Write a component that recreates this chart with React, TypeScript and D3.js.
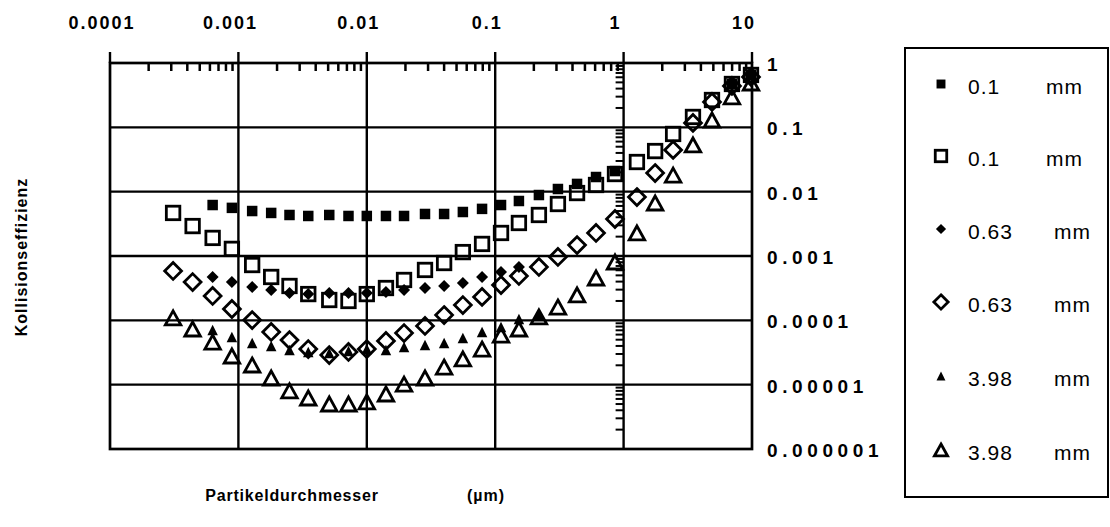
import React from "react";
import * as d3 from "d3";

// particle diameters (µm) shared by all series
const diameters = [3.1e-4, 4.4e-4, 6.3e-4, 8.9e-4, 1.28e-3, 1.8e-3, 2.5e-3, 3.5e-3, 5.1e-3, 7.2e-3, 0.01, 0.0141, 0.0195, 0.0284, 0.04, 0.056, 0.079, 0.111, 0.153, 0.219, 0.308, 0.434, 0.61, 0.857, 1.27, 1.76, 2.43, 3.47, 4.88, 6.98, 9.82];

const sq01Filled = [null, null, 6.2e-3, 5.6e-3, 5.0e-3, 4.67e-3, 4.34e-3, 4.19e-3, 4.34e-3, 4.19e-3, 4.19e-3, 4.19e-3, 4.19e-3, 4.5e-3, 4.5e-3, 4.83e-3, 5.4e-3, 6.2e-3, 7.16e-3, 8.87e-3, 0.011, 0.0132, 0.0169, 0.0209, null, null, null, null, null, 0.472, 0.652];
const sq01Open = [4.67e-3, 2.92e-3, 1.91e-3, 1.29e-3, 7.24e-4, 4.72e-4, 3.42e-4, 2.56e-4, 2.07e-4, 2.0e-4, 2.56e-4, 3.18e-4, 4.24e-4, 6.07e-4, 7.78e-4, 1.15e-3, 1.54e-3, 2.28e-3, 3.26e-3, 4.34e-3, 6.43e-3, 9.52e-3, 0.0127, 0.0188, 0.0289, 0.0428, 0.0789, 0.145, 0.266, 0.472, 0.652];
const di063Filled = [null, null, 4.72e-4, 3.94e-4, 3.3e-4, 2.96e-4, 2.66e-4, 2.56e-4, 2.66e-4, 2.66e-4, 2.66e-4, 2.76e-4, 2.96e-4, 3.18e-4, 3.42e-4, 3.8e-4, 4.72e-4, 5.64e-4, 6.75e-4, null, null, null, null, null, null, null, null, null, null, null, null];
const di063Open = [5.85e-4, 3.94e-4, 2.39e-4, 1.5e-4, 1.01e-4, 6.59e-5, 4.94e-5, 3.58e-5, 2.89e-5, 3.22e-5, 3.58e-5, 4.78e-5, 6.35e-5, 8.17e-5, 1.21e-4, 1.73e-4, 2.31e-4, 3.54e-4, 4.89e-4, 6.75e-4, 9.66e-4, 1.48e-3, 2.28e-3, 3.76e-3, 8.26e-3, 0.0195, 0.0445, 0.117, 0.248, 0.44, 0.607];
const tr398Filled = [null, null, 7.08e-5, 5.51e-5, 4.45e-5, 3.99e-5, 3.46e-5, 3.22e-5, 3.1e-5, 3.33e-5, 3.58e-5, 3.46e-5, 3.86e-5, 4.14e-5, 4.45e-5, 5.31e-5, 6.59e-5, 7.87e-5, 1.05e-4, 1.21e-4, null, null, null, null, null, null, null, null, null, null, null];
const tr398Open = [1.09e-4, 7.33e-5, 4.6e-5, 2.79e-5, 2.02e-5, 1.27e-5, 7.99e-6, 6.21e-6, 5.01e-6, 5.01e-6, 5.39e-6, 7.16e-6, 1.02e-5, 1.27e-5, 1.88e-5, 2.51e-5, 3.58e-5, 5.91e-5, 7.33e-5, 1.13e-4, 1.61e-4, 2.48e-4, 4.55e-4, 8.07e-4, 2.28e-3, 6.67e-3, 0.0181, 0.0532, 0.13, 0.297, 0.489];

const xTickValues = [1e-4, 1e-3, 1e-2, 1e-1, 1, 10];
const xTickLabels = ["0.0001", "0.001", "0.01", "0.1", "1", "10"];
const yTickValues = [1, 0.1, 0.01, 0.001, 1e-4, 1e-5, 1e-6];
const yTickLabels = ["1", "0.1", "0.01", "0.001", "0.0001", "0.00001", "0.000001"];
const legendLabels = ["0.1", "0.1", "0.63", "0.63", "3.98", "3.98"];
const legendUnit = "mm";

type Shape = "sqF" | "sqO" | "diF" | "diO" | "trF" | "trO";
const seriesList: { shape: Shape; values: (number | null)[] }[] = [
  { shape: "sqF", values: sq01Filled },
  { shape: "sqO", values: sq01Open },
  { shape: "diF", values: di063Filled },
  { shape: "diO", values: di063Open },
  { shape: "trF", values: tr398Filled },
  { shape: "trO", values: tr398Open },
];

function Marker({ shape, cx, cy, scale = 1 }: { shape: Shape; cx: number; cy: number; scale?: number }) {
  const sw = 2.8;
  switch (shape) {
    case "sqF": {
      const s = 10.5 * scale;
      return <rect x={cx - s / 2} y={cy - s / 2} width={s} height={s} fill="#000" />;
    }
    case "sqO": {
      const s = 13.5 * scale;
      return <rect x={cx - s / 2} y={cy - s / 2} width={s} height={s} fill="none" stroke="#000" strokeWidth={sw} />;
    }
    case "diF": {
      const r = 6 * scale;
      return <path d={`M${cx},${cy - r}L${cx + r},${cy}L${cx},${cy + r}L${cx - r},${cy}Z`} fill="#000" />;
    }
    case "diO": {
      const r = 8.4 * scale;
      return <path d={`M${cx},${cy - r}L${cx + r},${cy}L${cx},${cy + r}L${cx - r},${cy}Z`} fill="none" stroke="#000" strokeWidth={sw} />;
    }
    case "trF": {
      const w = 10.5 * scale, h = 10.5 * scale;
      return <path d={`M${cx},${cy - h / 2}L${cx + w / 2},${cy + h / 2}L${cx - w / 2},${cy + h / 2}Z`} fill="#000" />;
    }
    case "trO": {
      const w = 15.5 * scale, h = 14 * scale;
      return <path d={`M${cx},${cy - h / 2}L${cx + w / 2},${cy + h / 2}L${cx - w / 2},${cy + h / 2}Z`} fill="none" stroke="#000" strokeWidth={sw} />;
    }
  }
}

export default function App() {
  const left = 110, right = 752, top = 63, bottom = 449;
  const x = d3.scaleLog().domain([1e-4, 10]).range([left, right]);
  const y = d3.scaleLog().domain([1e-6, 1]).range([bottom, top]);
  const font = "'Liberation Sans', Arial, sans-serif";

  const minorX: number[] = [];
  for (let d = 1e-4; d < 10; d *= 10) for (let k = 2; k <= 9; k++) minorX.push(k * d);
  const minorY: number[] = [];
  for (let d = 1e-6; d < 1; d *= 10) for (let k = 2; k <= 9; k++) minorY.push(k * d);

  const legendY = [88, 160, 233, 306, 380, 454];

  return (
    <svg width={1110} height={527} style={{ position: "absolute", left: 0, top: 0, background: "#fff" }}>
      <rect x={0} y={0} width={1110} height={527} fill="#fff" />
      {/* horizontal gridlines */}
      {yTickValues.slice(1, -1).map((v) => (
        <line key={"h" + v} x1={left} x2={right} y1={y(v)} y2={y(v)} stroke="#000" strokeWidth={2.4} />
      ))}
      {/* vertical gridlines + top major ticks */}
      {xTickValues.map((v) => (
        <line key={"v" + v} x1={x(v)} x2={x(v)} y1={top - 11} y2={v > 1e-4 && v < 10 ? bottom : top} stroke="#000" strokeWidth={2.4} />
      ))}
      {/* top minor ticks */}
      {minorX.map((v, i) => (
        <line key={"mx" + i} x1={x(v)} x2={x(v)} y1={top} y2={top + 8} stroke="#000" strokeWidth={2.5} />
      ))}
      {/* minor y ticks on the x = 1 axis */}
      {minorY.map((v, i) => (
        <line key={"my" + i} x1={x(1) - 8} x2={x(1)} y1={y(v)} y2={y(v)} stroke="#000" strokeWidth={2} />
      ))}
      {/* frame */}
      <rect x={left} y={top} width={right - left} height={bottom - top} fill="none" stroke="#000" strokeWidth={2.7} />

      {/* data */}
      {seriesList.map((s) =>
        s.values.map((v, i) =>
          v == null ? null : <Marker key={s.shape + i} shape={s.shape} cx={x(diameters[i])} cy={y(v)} />
        )
      )}

      {/* top labels */}
      {xTickValues.map((v, i) => (
        <text key={"xt" + v} x={x(v) - 8} y={29} textAnchor="middle" fontFamily={font} fontWeight="bold" fontSize={18} letterSpacing={2}>
          {xTickLabels[i]}
        </text>
      ))}
      {/* right labels */}
      {yTickValues.map((v, i) => (
        <text key={"yt" + v} x={767} y={y(v) + 3} dominantBaseline="middle" fontFamily={font} fontWeight="bold" fontSize={19} letterSpacing={4.6}>
          {yTickLabels[i]}
        </text>
      ))}

      {/* axis titles */}
      <text transform="translate(23,257) rotate(-90)" textAnchor="middle" dominantBaseline="middle" fontFamily={font} fontWeight="bold" fontSize={16} letterSpacing={1}>
        Kollisionseffizienz
      </text>
      <text x={292} y={497} textAnchor="middle" dominantBaseline="middle" fontFamily={font} fontWeight="bold" fontSize={16} letterSpacing={0.8}>
        Partikeldurchmesser
      </text>
      <text x={486} y={497} textAnchor="middle" dominantBaseline="middle" fontFamily={font} fontWeight="bold" fontSize={16} letterSpacing={1}>
        (µm)
      </text>

      {/* legend */}
      <rect x={905} y={48} width={203} height={449} fill="none" stroke="#000" strokeWidth={2} />
      {seriesList.map((s, i) => (
        <g key={"lg" + i}>
          <Marker shape={s.shape} cx={941} cy={legendY[i] - 4} scale={0.85} />
          <text x={968} y={legendY[i]} dominantBaseline="middle" fontFamily={font} fontSize={21} letterSpacing={1}>
            {legendLabels[i]}
          </text>
          <text x={i < 2 ? 1046 : 1054} y={legendY[i]} dominantBaseline="middle" fontFamily={font} fontSize={21} letterSpacing={1}>
            {legendUnit}
          </text>
        </g>
      ))}
    </svg>
  );
}
